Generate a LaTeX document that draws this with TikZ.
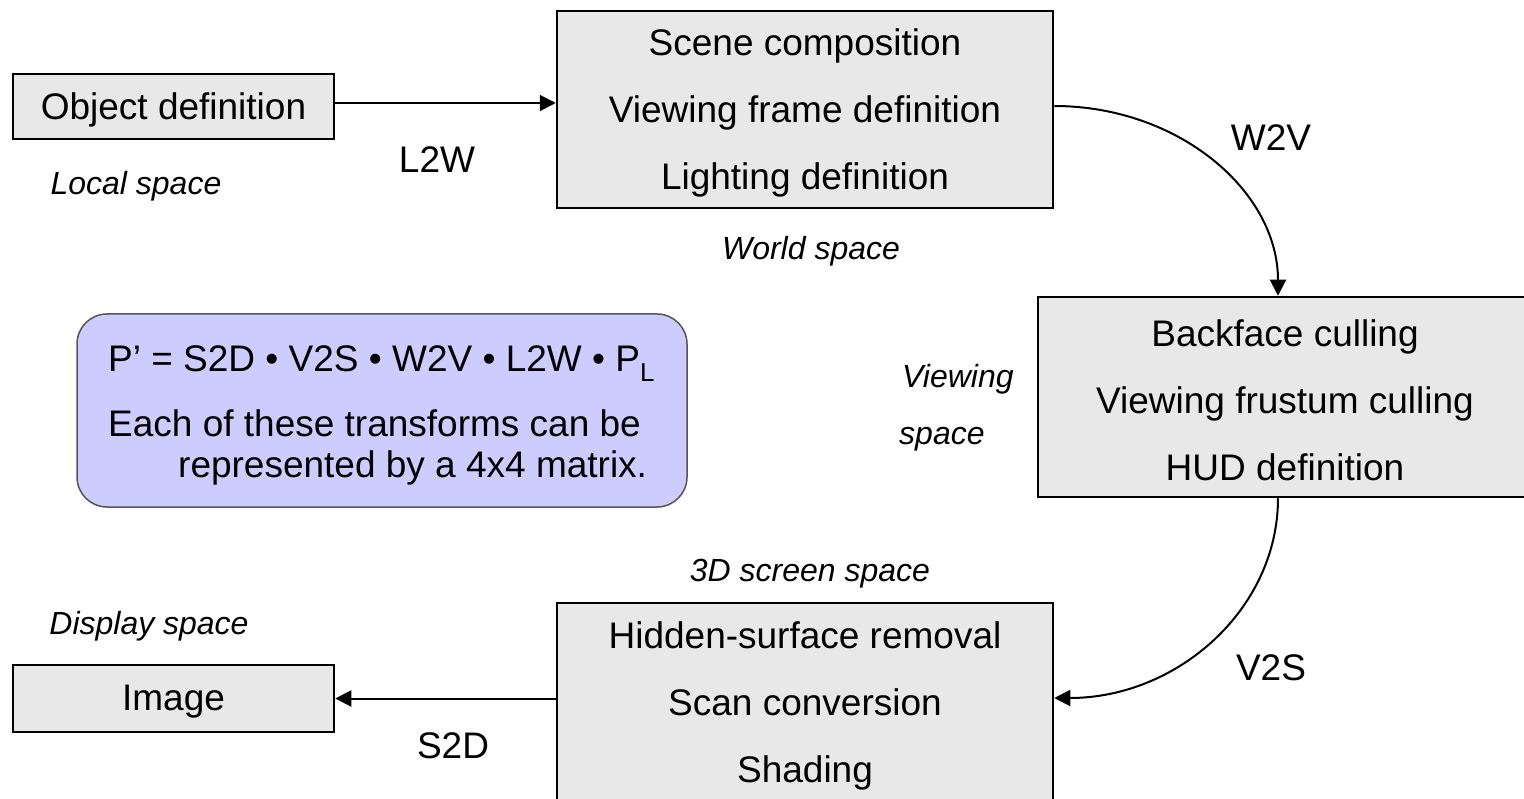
\documentclass[tikz,border=0pt]{standalone}
\usepackage{fontspec}
\setmainfont{Liberation Sans}
\usetikzlibrary{arrows.meta,calc}
\definecolor{boxgray}{HTML}{E8E8E8}
\definecolor{lav}{HTML}{CCCCFF}
\definecolor{fborder}{HTML}{555555}
\begin{document}
\begin{tikzpicture}[x=1pt,y=-1pt,
  box/.style={draw=black, line width=2.5pt, fill=boxgray, inner sep=0pt},
  boxtext/.style={inner sep=0pt, align=center, font=\fontsize{37}{67}\selectfont, yshift=-3pt},
  lbl/.style={font=\fontsize{37}{44}\selectfont, inner sep=0pt, anchor=base},
  ilbl/.style={font=\fontsize{32}{38}\selectfont\itshape, inner sep=0pt, anchor=base},
  arr/.style={line width=2pt, -{Triangle[length=16pt,width=16pt]}}]
\useasboundingbox (0,0) rectangle (1524,799);
% boxes
\node[box, minimum width=321pt, minimum height=65pt,
  label={[boxtext,name=objtxt]center:Object definition}] (obj) at (173.5,106.5) {};
\node[box, minimum width=496pt, minimum height=197pt,
  label={[boxtext,name=worldtxt]center:Scene composition\\Viewing frame definition\\Lighting definition}] (world) at (805,109.5) {};
\node[box, minimum width=494pt, minimum height=200pt,
  label={[boxtext,name=viewtxt]center:Backface culling\\Viewing frustum culling\\HUD definition}] (view) at (1285,397) {};
\node[box, minimum width=496pt, minimum height=200pt,
  label={[boxtext,name=screentxt]center:Hidden-surface removal\\Scan conversion\\Shading}] (screen) at (805,703) {};
\node[box, minimum width=321pt, minimum height=67pt,
  label={[boxtext,name=imgtxt]center:Image}] (img) at (173.5,698.5) {};
% formula box
\node[draw=fborder, line width=1.5pt, fill=lav, rounded corners=30pt, minimum width=610pt, minimum height=193pt, inner sep=0pt] (formula) at (382,410.5) {};
\node[lbl, anchor=base west] (f1) at (108,372) {P’ = S2D • V2S • W2V • L2W • P\textsubscript{L}};
\node[lbl, anchor=base west] (f2) at (108,437) {Each of these transforms can be};
\node[lbl, anchor=base west] (f3) at (178,478) {represented by a 4x4 matrix.};
% labels
\node[lbl] (l2w) at (437,173) {L2W};
\node[ilbl] (localsp) at (136,195) {Local space};
\node[ilbl] (worldsp) at (811,259.5) {World space};
\node[lbl] (w2v) at (1271,151) {W2V};
\node[ilbl, anchor=base west] (viewsp1) at (902,388) {Viewing};
\node[ilbl, anchor=base west] (viewsp2) at (899,445) {space};
\node[ilbl] (scrsp) at (810,581.5) {3D screen space};
\node[ilbl] (dispsp) at (149,634.5) {Display space};
\node[lbl] (v2s) at (1271,680) {V2S};
\node[lbl] (s2d) at (453,758) {S2D};
% connectors
\draw[arr] ([yshift=3.5pt]obj.east) -- ([yshift=3.5pt]obj.east -| world.west);
\coordinate (w2vs) at ([yshift=3.5pt]world.east);
\coordinate (w2ve) at ([xshift=-7pt]view.north);
\draw[arr] (w2vs) .. controls ($(w2vs)+(124,0)$) and ($(w2ve)+(0,-105)$) .. (w2ve);
\coordinate (v2ss) at ([xshift=-7pt]view.south);
\coordinate (v2se) at ([yshift=5pt]screen.east);
\draw[arr] (v2ss) .. controls ($(v2ss)+(0,111)$) and ($(v2se)+(123,0)$) .. (v2se);
\draw[arr] (screen.west |- img.east) -- (img.east);
\end{tikzpicture}
\end{document}
